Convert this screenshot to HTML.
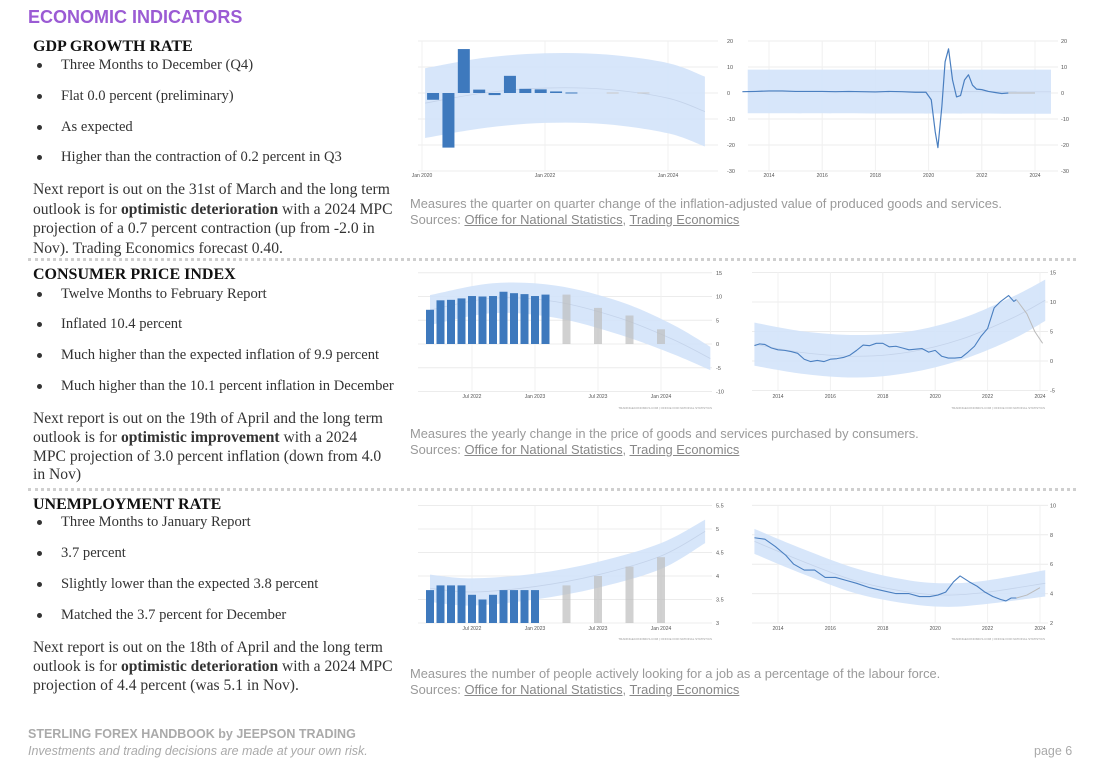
<!DOCTYPE html>
<html><head><meta charset="utf-8">
<style>
body{margin:0;width:1104px;height:770px;background:#fff;position:relative;overflow:hidden;font-family:"Liberation Serif",serif;color:#222}
.a{position:absolute;white-space:nowrap}
.title{left:28px;top:7px;font:bold 18px "Liberation Sans",sans-serif;color:#9b5bd4}
.h{left:33px;font-weight:bold;font-size:16px;line-height:20px;color:#111}
.b{left:61px;font-size:14.6px;line-height:18px;color:#333}
.dot{position:absolute;left:37px;width:5px;height:5px;border-radius:50%;background:#333}
.p{left:33px;font-size:15.6px;color:#333}
.cap{left:410px;font:12.9px "Liberation Sans",sans-serif;color:#9a9a9a;line-height:16px}
.cap u{color:#888}
.sep{position:absolute;left:28px;width:1048px;border-top:3px dotted #cfcfcf}
.f1{left:28px;top:727px;font:bold 12.5px "Liberation Sans",sans-serif;color:#aaa}
.f2{left:28px;top:744px;font:italic 12.5px "Liberation Sans",sans-serif;color:#aaa}
.f3{left:1034px;top:744px;font:12.5px "Liberation Sans",sans-serif;color:#aaa}
svg{position:absolute;left:0;top:0}
</style></head><body>
<div class="a title">ECONOMIC INDICATORS</div>

<div class="a h" style="top:37px">GDP GROWTH RATE</div>
<div class="dot" style="top:63px"></div><div class="a b" style="top:56px">Three Months to December (Q4)</div>
<div class="dot" style="top:94px"></div><div class="a b" style="top:87px">Flat 0.0 percent (preliminary)</div>
<div class="dot" style="top:125px"></div><div class="a b" style="top:118px">As expected</div>
<div class="dot" style="top:155px"></div><div class="a b" style="top:148px">Higher than the contraction of 0.2 percent in Q3</div>
<div class="a p" style="top:180px;line-height:19.7px">Next report is out on the 31st of March and the long term<br>outlook is for <b>optimistic deterioration</b> with a 2024 MPC<br>projection of a 0.7 percent contraction (up from -2.0 in<br>Nov). Trading Economics forecast 0.40.</div>
<div class="a cap" style="top:196px">Measures the quarter on quarter change of the inflation-adjusted value of produced goods and services.<br>Sources: <u>Office for National Statistics</u>, <u>Trading Economics</u></div>
<div class="sep" style="top:258px"></div>

<div class="a h" style="top:265px">CONSUMER PRICE INDEX</div>
<div class="dot" style="top:292px"></div><div class="a b" style="top:285px">Twelve Months to February Report</div>
<div class="dot" style="top:322px"></div><div class="a b" style="top:315px">Inflated 10.4 percent</div>
<div class="dot" style="top:353px"></div><div class="a b" style="top:346px">Much higher than the expected inflation of 9.9 percent</div>
<div class="dot" style="top:384px"></div><div class="a b" style="top:377px">Much higher than the 10.1 percent inflation in December</div>
<div class="a p" style="top:410px;line-height:18.8px">Next report is out on the 19th of April and the long term<br>outlook is for <b>optimistic improvement</b> with a 2024<br>MPC projection of 3.0 percent inflation (down from 4.0<br>in Nov)</div>
<div class="a cap" style="top:426px">Measures the yearly change in the price of goods and services purchased by consumers.<br>Sources: <u>Office for National Statistics</u>, <u>Trading Economics</u></div>
<div class="sep" style="top:488px"></div>

<div class="a h" style="top:495px">UNEMPLOYMENT RATE</div>
<div class="dot" style="top:520px"></div><div class="a b" style="top:513px">Three Months to January Report</div>
<div class="dot" style="top:551px"></div><div class="a b" style="top:544px">3.7 percent</div>
<div class="dot" style="top:582px"></div><div class="a b" style="top:575px">Slightly lower than the expected 3.8 percent</div>
<div class="dot" style="top:613px"></div><div class="a b" style="top:606px">Matched the 3.7 percent for December</div>
<div class="a p" style="top:638px;line-height:19px">Next report is out on the 18th of April and the long term<br>outlook is for <b>optimistic deterioration</b> with a 2024 MPC<br>projection of 4.4 percent (was 5.1 in Nov).</div>
<div class="a cap" style="top:666px">Measures the number of people actively looking for a job as a percentage of the labour force.<br>Sources: <u>Office for National Statistics</u>, <u>Trading Economics</u></div>

<div class="a f1">STERLING FOREX HANDBOOK by JEEPSON TRADING</div>
<div class="a f2">Investments and trading decisions are made at your own risk.</div>
<div class="a f3">page 6</div>

<svg id="charts" width="1104" height="770"></svg>
<script>
// ---- GDP quarterly bars (Q1 2020 ...) ----
const gdpBarTimes=[2020.0,2020.25,2020.5,2020.75,2021.0,2021.25,2021.5,2021.75,2022.0,2022.25];
const gdpBarValues=[-2.6,-21.0,16.9,1.3,-0.8,6.6,1.6,1.4,0.6,0.2];
const gdpFcTimes=[2023.1,2023.6];
const gdpFcValues=[0,0];
const gdpBandT=[2020.05,2021.0,2022.0,2023.0,2024.0,2024.6];
const gdpBandHi=[9.5,13.5,15.3,14.8,11.5,6.3];
const gdpBandLo=[-17.3,-13.5,-11.5,-12.0,-15.5,-20.6];
const gdpTicks=[20,10,0,-10,-20,-30];
const gdpBarXLabels=["Jan 2020","Jan 2022","Jan 2024"];
const gdpBarXTimes=[2020,2022,2024];
// ---- GDP long line ----
const gdpLineT=[2013.0,2013.5,2014.0,2014.5,2015.0,2015.5,2016.0,2016.5,2017.0,2017.5,2018.0,2018.5,2019.0,2019.5,2019.9,2020.1,2020.25,2020.35,2020.5,2020.62,2020.75,2020.9,2021.05,2021.2,2021.35,2021.5,2021.65,2021.8,2022.0,2022.25,2022.5,2022.75,2023.0];
const gdpLineV=[0.5,0.6,0.8,0.8,0.6,0.6,0.6,0.5,0.6,0.5,0.4,0.6,0.5,0.3,0.3,-2.6,-15,-21,-5,12,17,5,-1.5,-1.0,5,7,3,1.5,1.3,0.6,0.2,-0.2,0.0];
const gdpLineFcT=[2023.0,2024.0];
const gdpLineFcV=[0,0];
const gdpLineBandT=[2013.2,2024.6];
const gdpLineBandHi=[9,9];
const gdpLineBandLo=[-7.8,-8];
const yearLabels=["2014","2016","2018","2020","2022","2024"];
const yearTimes=[2014,2016,2018,2020,2022,2024];
// ---- CPI monthly bars (months from Jan 2022) ----
const cpiBarMonths=[2,3,4,5,6,7,8,9,10,11,12,13];
const cpiBarValues=[7.2,9.2,9.3,9.6,10.1,10.0,10.1,11.0,10.7,10.5,10.1,10.4];
const cpiFcMonths=[15,18,21,24];
const cpiFcValues=[10.4,7.6,6.0,3.1];
const cpiBandM=[2,8,14,20,25,28.7];
const cpiBandHi=[10.3,12.8,12.3,9.0,4.2,-0.6];
const cpiBandLo=[4.0,6.5,5.5,2.0,-2.0,-5.5];
const cpiTicks=[15,10,5,0,-5,-10];
const monthLabels=["Jul 2022","Jan 2023","Jul 2023","Jan 2024"];
const monthLabelPos=[6,12,18,24];
// ---- CPI long line ----
const cpiLineT=[2013.1,2013.3,2013.5,2013.75,2014.0,2014.25,2014.5,2014.75,2015.0,2015.25,2015.5,2015.75,2016.0,2016.25,2016.5,2016.75,2017.0,2017.25,2017.5,2017.75,2018.0,2018.25,2018.5,2018.75,2019.0,2019.25,2019.5,2019.75,2020.0,2020.25,2020.5,2020.75,2021.0,2021.25,2021.5,2021.75,2022.0,2022.25,2022.5,2022.8,2023.0,2023.1];
const cpiLineV=[2.6,2.9,2.8,2.2,1.9,1.8,1.6,1.3,0.3,-0.1,0.1,-0.1,0.3,0.4,0.6,1.0,1.8,2.7,2.6,3.0,3.0,2.4,2.5,2.2,1.9,2.0,2.1,1.5,1.8,0.8,0.5,0.5,0.6,1.5,2.5,4.2,5.5,9.0,10.1,11.1,10.1,10.4];
const cpiLineFcT=[2023.1,2023.5,2023.8,2024.1];
const cpiLineFcV=[10.4,8.0,5.0,3.0];
const cpiLineBandT=[2013.1,2015,2017,2019,2021,2023,2024.2];
const cpiLineBandHi=[6.5,5.0,4.4,5.0,7.2,11.0,13.8];
const cpiLineBandLo=[-0.8,-2.2,-2.8,-2.0,0.2,3.8,6.8];
const cpiLineTicks=[15,10,5,0,-5];
// ---- Unemployment bars ----
const unBarMonths=[2,3,4,5,6,7,8,9,10,11,12];
const unBarValues=[3.7,3.8,3.8,3.8,3.6,3.5,3.6,3.7,3.7,3.7,3.7];
const unFcMonths=[15,18,21,24];
const unFcValues=[3.8,4.0,4.2,4.4];
const unBandM=[2,6,12,18,24,28.2];
const unBandHi=[4.03,3.95,4.05,4.3,4.7,5.2];
const unBandLo=[3.45,3.37,3.5,3.75,4.15,4.7];
const unTicks=[5.5,5,4.5,4,3.5,3];
// ---- Unemployment long line ----
const unLineT=[2013.1,2013.5,2013.9,2014.3,2014.6,2015.0,2015.4,2015.8,2016.2,2016.6,2017.0,2017.5,2018.0,2018.5,2019.0,2019.4,2019.8,2020.1,2020.4,2020.7,2020.95,2021.3,2021.6,2021.9,2022.2,2022.5,2022.7,2022.9,2023.1];
const unLineV=[7.8,7.7,7.2,6.6,6.0,5.6,5.6,5.1,5.1,4.9,4.7,4.4,4.2,4.0,4.0,3.8,3.8,3.9,4.1,4.8,5.2,4.8,4.5,4.1,3.8,3.6,3.5,3.7,3.7];
const unLineFcT=[2023.1,2023.5,2024.0];
const unLineFcV=[3.7,3.9,4.4];
const unLineBandT=[2013.1,2015,2017,2019,2020.5,2022,2024.2];
const unLineBandHi=[8.4,7.0,5.7,4.9,4.7,4.9,5.6];
const unLineBandLo=[6.7,5.3,4.0,3.3,3.1,3.3,3.8];
const unLineTicks=[10,8,6,4,2];

const svg=document.getElementById('charts');
const NS='http://www.w3.org/2000/svg';
function mk(tag,attrs,name){const e=document.createElementNS(NS,tag);for(const k in attrs)e.setAttribute(k,attrs[k]);


svg.appendChild(e);return e;}
function smooth(pts){let d='M'+pts[0][0]+','+pts[0][1];for(let i=0;i<pts.length-1;i++){const p0=pts[Math.max(0,i-1)],p1=pts[i],p2=pts[i+1],p3=pts[Math.min(pts.length-1,i+2)];
const c1=[p1[0]+(p2[0]-p0[0])/6,p1[1]+(p2[1]-p0[1])/6],c2=[p2[0]-(p3[0]-p1[0])/6,p2[1]-(p3[1]-p1[1])/6];d+=' C'+c1+' '+c2+' '+p2;}return d;}
function band(ts,hi,lo,xs,ys,name){const up=ts.map((t,i)=>[xs(t),ys(hi[i])]);const dn=ts.map((t,i)=>[xs(t),ys(lo[i])]).reverse();
let d=smooth(up)+' L'+dn[0]+' '+smooth(dn).slice(1)+' Z';mk('path',{d:d,fill:'#d3e3fa','fill-opacity':0.9},name);
const mid=ts.map((t,i)=>[xs(t),ys((hi[i]+lo[i])/2)]);mk('path',{d:smooth(mid),fill:'none',stroke:'#c4d3ea','stroke-width':0.8},name+'-trend');}
function grid(x0,x1,y0,y1,ticks,ys,lx,vx,name){ticks.forEach(v=>{mk('line',{x1:x0,x2:x1,y1:ys(v),y2:ys(v),stroke:'#ececec','stroke-width':1},name+'-gridline');
const t=mk('text',{x:lx,y:ys(v)+2,'font-size':5.5,fill:'#555','font-family':'Liberation Sans, sans-serif'},name+'-y-tick');t.textContent=v;});
vx.forEach(x=>mk('line',{x1:x,x2:x,y1:y0,y2:y1,stroke:'#f0f0f0','stroke-width':1},name+'-vgrid'));}
function xlabels(labels,pos,xs,y,name){labels.forEach((l,i)=>{const t=mk('text',{x:xs(pos[i]),y:y,'font-size':5,fill:'#555','text-anchor':'middle','font-family':'Liberation Sans, sans-serif'},name+'-x-tick');t.textContent=l;});}
function line(ts,vs,xs,ys,color,w,name){mk('polyline',{points:ts.map((t,i)=>xs(t)+','+ys(vs[i])).join(' '),fill:'none',stroke:color,'stroke-width':w,'stroke-linejoin':'round'},name);}
function src(x,y){const t=mk('text',{x:x,y:y,'font-size':3,fill:'#999','text-anchor':'end','font-family':'Liberation Sans, sans-serif'},'source-note');t.textContent='TRADINGECONOMICS.COM  |  OFFICE FOR NATIONAL STATISTICS';}

// Chart 1: GDP bars
{const xs=t=>422+(t-2020)*61.5, ys=v=>93-v*2.6;
grid(418,718,41,171,gdpTicks,ys,727,gdpBarXTimes.map(xs),'gdp-bars');
band(gdpBandT,gdpBandHi,gdpBandLo,xs,ys,'gdp-forecast-band');
gdpBarValues.forEach((v,i)=>{const x=xs(gdpBarTimes[i]+0.18);mk('rect',{x:x-6,y:Math.min(ys(v),ys(0)),width:12,height:Math.max(1,Math.abs(ys(v)-ys(0))),fill:'#3e79bd'},'gdp-bar');});
gdpFcValues.forEach((v,i)=>{const x=xs(gdpFcTimes[i]);mk('rect',{x:x-6,y:ys(v)-0.5,width:12,height:1,fill:'#c8c8c8'},'gdp-forecast-bar');});
xlabels(gdpBarXLabels,gdpBarXTimes,xs,177,'gdp-bars');}
// Chart 2: GDP line
{const xs=t=>769+(t-2014)*26.6, ys=v=>93-v*2.6;
grid(748,1058,41,171,gdpTicks,ys,1061,yearTimes.map(xs),'gdp-line');
band(gdpLineBandT,gdpLineBandHi,gdpLineBandLo,xs,ys,'gdp-line-band');
line(gdpLineT,gdpLineV,xs,ys,'#4a7fc0',1.2,'gdp-line');
line(gdpLineFcT,gdpLineFcV,xs,ys,'#bbb',1,'gdp-forecast-line');
xlabels(yearLabels,yearTimes,xs,177,'gdp-line');}
// Chart 3: CPI bars
{const xs=m=>409+m*10.5, ys=v=>344-v*4.75;
grid(418,712,273,392,cpiTicks,ys,716,monthLabelPos.map(xs),'cpi-bars');
band(cpiBandM,cpiBandHi,cpiBandLo,xs,ys,'cpi-forecast-band');
cpiBarValues.forEach((v,i)=>{const x=xs(cpiBarMonths[i]);mk('rect',{x:x-4,y:ys(v),width:8,height:ys(0)-ys(v),fill:'#3e79bd'},'cpi-bar');});
cpiFcValues.forEach((v,i)=>{const x=xs(cpiFcMonths[i]);mk('rect',{x:x-4,y:ys(v),width:8,height:ys(0)-ys(v),fill:'#bdbdbd','fill-opacity':0.7},'cpi-forecast-bar');});
xlabels(monthLabels,monthLabelPos,xs,398,'cpi-bars');src(712,409);}
// Chart 4: CPI line
{const xs=t=>778+(t-2014)*26.2, ys=v=>361-v*5.9;
grid(752,1048,272,390,cpiLineTicks,ys,1050,yearTimes.map(xs),'cpi-line');
band(cpiLineBandT,cpiLineBandHi,cpiLineBandLo,xs,ys,'cpi-line-band');
line(cpiLineT,cpiLineV,xs,ys,'#4a7fc0',1.1,'cpi-line');
line(cpiLineFcT,cpiLineFcV,xs,ys,'#bbb',1,'cpi-forecast-line');
xlabels(yearLabels,yearTimes,xs,398,'cpi-line');src(1045,409);}
// Chart 5: Unemployment bars
{const xs=m=>409+m*10.5, ys=v=>623-(v-3)*47;
grid(418,712,506,623,unTicks,ys,716,monthLabelPos.map(xs),'unemp-bars');
band(unBandM,unBandHi,unBandLo,xs,ys,'unemp-forecast-band');
unBarValues.forEach((v,i)=>{const x=xs(unBarMonths[i]);mk('rect',{x:x-4,y:ys(v),width:8,height:ys(3)-ys(v),fill:'#3e79bd'},'unemp-bar');});
unFcValues.forEach((v,i)=>{const x=xs(unFcMonths[i]);mk('rect',{x:x-4,y:ys(v),width:8,height:ys(3)-ys(v),fill:'#bdbdbd','fill-opacity':0.7},'unemp-forecast-bar');});
xlabels(monthLabels,monthLabelPos,xs,630,'unemp-bars');src(712,640);}
// Chart 6: Unemployment line
{const xs=t=>778+(t-2014)*26.2, ys=v=>623-(v-2)*14.7;
grid(752,1048,506,623,unLineTicks,ys,1050,yearTimes.map(xs),'unemp-line');
band(unLineBandT,unLineBandHi,unLineBandLo,xs,ys,'unemp-line-band');
line(unLineT,unLineV,xs,ys,'#4a7fc0',1.1,'unemp-line');
line(unLineFcT,unLineFcV,xs,ys,'#bbb',1,'unemp-forecast-line');
xlabels(yearLabels,yearTimes,xs,630,'unemp-line');src(1045,640);}
</script>
</body></html>
